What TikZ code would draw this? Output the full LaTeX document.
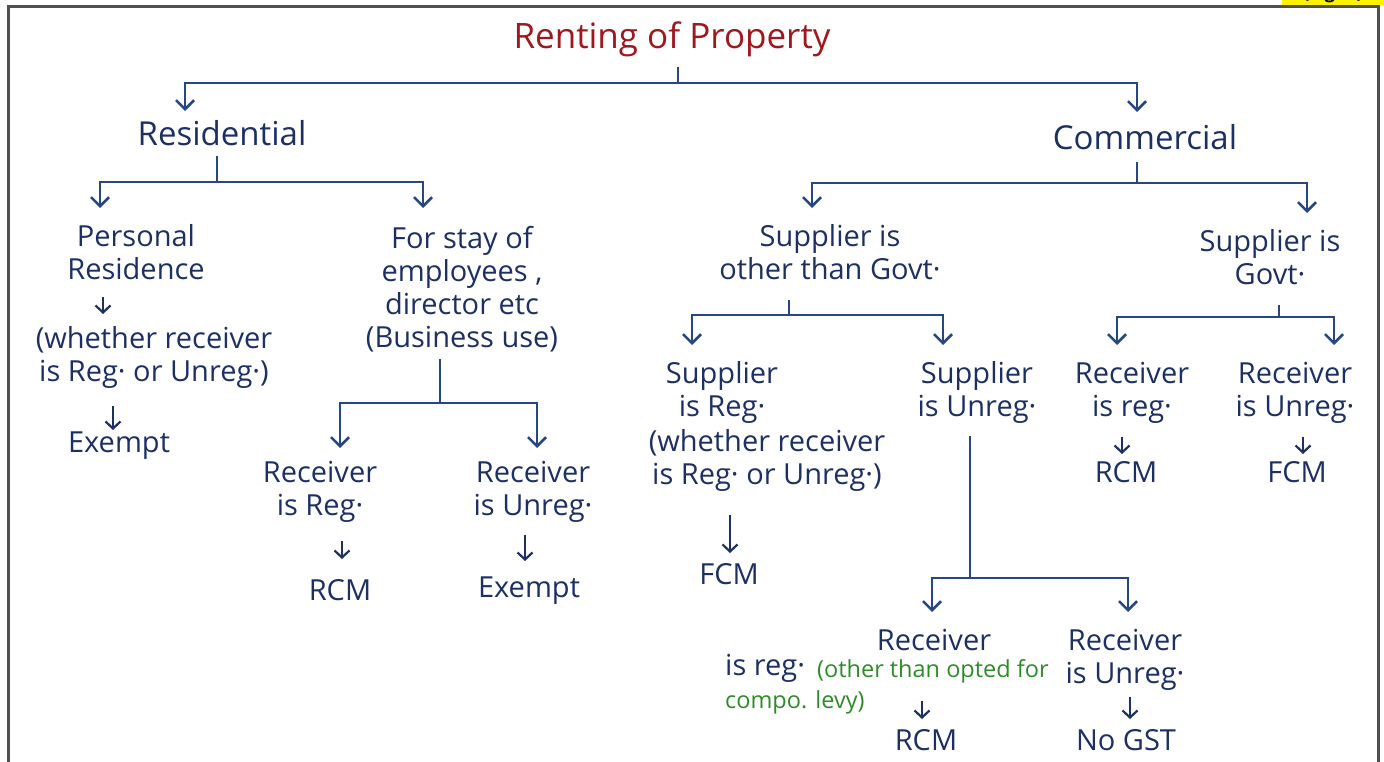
\documentclass[tikz,border=0pt]{standalone}
\usepackage{fontspec}
\setmainfont{Open Sans}
\usetikzlibrary{arrows.meta}
\definecolor{ink}{RGB}{28,48,100}
\definecolor{linec}{RGB}{38,72,130}
\definecolor{titlered}{RGB}{160,24,30}
\definecolor{grn}{RGB}{46,140,40}
\definecolor{framec}{RGB}{80,80,80}
\begin{document}
\begin{tikzpicture}[x=1pt,y=-1pt,
 txt/.style={font=\fontsize{29}{33}\selectfont, text=ink, align=center, inner sep=0pt, anchor=north},
 big/.style={txt, font=\fontsize{33}{36}\selectfont},
 gtxt/.style={font=\fontsize{23.5}{26}\selectfont, text=grn, inner sep=0pt, anchor=base west},
 ln/.style={draw=linec, line width=2.6pt},
 arr/.style={ln, -{Straight Barb[length=9pt,width=18pt]}},
 sarr/.style={draw=ink, line width=2.2pt, -{Straight Barb[length=7pt,width=15pt]}},
]
\useasboundingbox (0,0) rectangle (1384,762);
\clip (0,0) rectangle (1384,762);
\fill[yellow] (1282,-10) rectangle (1384,5);
\node[font=\bfseries\fontsize{18}{20}\selectfont, text=black, anchor=base, inner sep=0pt] (fig) at (1333,-1) {(Fig. 1)};
\draw[framec, line width=3pt] (8,780) -- (8,7) -- (1378,7) -- (1378,780);

% nodes
\node[txt, font=\fontsize{35}{38}\selectfont, text=titlered] (title) at (672,22) {Renting of Property};
\node[big] (res) at (222,120) {Residential};
\node[big] (com) at (1145,124) {Commercial};
\node[txt] (pr) at (136,224) {Personal\\Residence};
\node[txt] (wr1) at (154,326) {(whether receiver\\is Reg· or Unreg·)};
\node[txt] (ex1) at (119,432) {Exempt};
\node[txt] (fs) at (462,226) {For stay of\\employees ,\\director etc\\(Business use)};
\node[txt] (rr1) at (320,461) {Receiver\\is Reg·};
\node[txt] (rcm1) at (340,579) {RCM};
\node[txt] (ru1) at (533,461) {Receiver\\is Unreg·};
\node[txt] (ex2) at (529,577) {Exempt};
\node[txt] (sog) at (830,224) {Supplier is\\other than Govt·};
\node[txt] (sr) at (722,361) {Supplier\\is Reg·};
\node[txt] (wr2) at (767,429) {(whether receiver\\is Reg· or Unreg·)};
\node[txt] (fcm1) at (729,563) {FCM};
\node[txt] (su) at (977,361) {Supplier\\is Unreg·};
\node[txt] (rr3) at (934,629) {Receiver};
\node[txt, anchor=base west] (isreg) at (725,675) {is reg·};
\node[gtxt] (g1) at (817,677) {(other than opted for};
\node[gtxt] (g2) at (725,708) {compo. levy)};
\node[txt] (rcm3) at (926,729) {RCM};
\node[txt] (ru3) at (1125,629) {Receiver\\is Unreg·};
\node[txt] (ngst) at (1126,729) {No GST};
\node[txt] (sg) at (1270,229) {Supplier is\\Govt·};
\node[txt] (rr4) at (1132,362) {Receiver\\is reg·};
\node[txt] (rcm4) at (1126,461) {RCM};
\node[txt] (ru4) at (1295,362) {Receiver\\is Unreg·};
\node[txt] (fcm4) at (1297,461) {FCM};

% tree connectors
\draw[ln, shorten <=9pt] (title.south -| 678,0) -- (678,83) coordinate (j0);
\draw[arr, shorten >=9pt] (j0) -| (res.north -| 185,0);
\draw[arr, shorten >=12pt] (j0) -| (com.north -| 1137,0);

\draw[ln, shorten <=10pt] (res.south -| 217,0) -- (217,182) coordinate (j1);
\draw[arr, shorten >=16pt] (j1) -| (pr.north -| 100,0);
\draw[arr, shorten >=18pt] (j1) -| (fs.north -| 423,0);

\draw[ln, shorten <=7pt] (fs.south -| 440,0) -- (440,403) coordinate (j2);
\draw[arr, shorten >=13pt] (j2) -| (rr1.north -| 340,0);
\draw[arr, shorten >=13pt] (j2) -| (ru1.north -| 537,0);

\draw[ln, shorten <=12pt] (com.south -| 1137,0) -- (1137,183) coordinate (j3);
\draw[arr, shorten >=16pt] (j3) -| (sog.north -| 812,0);
\draw[arr, shorten >=16pt] (j3) -| (sg.north -| 1307,0);

\draw[ln, shorten <=20pt] (sog.south -| 789,0) -- (789,315) coordinate (j4);
\draw[arr, shorten >=16pt] (j4) -| (sr.north -| 692,0);
\draw[arr, shorten >=16pt] (j4) -| (su.north -| 943,0);

\draw[ln, shorten <=13pt] (su.south -| 970,0) -- (970,578) coordinate (j5);
\draw[arr, shorten >=17pt] (j5) -| (rr3.north -| 932,0);
\draw[arr, shorten >=17pt] (j5) -| (ru3.north -| 1128,0);

\draw[ln, shorten <=20pt] (sg.south -| 1279,0) -- (1279,317) coordinate (j6);
\draw[arr, shorten >=17pt] (j6) -| (rr4.north -| 1117,0);
\draw[arr, shorten >=17pt] (j6) -| (ru4.north -| 1334,0);

% small arrows
\draw[sarr, shorten <=17pt, shorten >=12pt] (pr.south -| 103,0) -- (wr1.north -| 103,0);
\draw[sarr, shorten <=18pt, shorten >=2pt] (wr1.south -| 113,0) -- (ex1.north -| 113,0);
\draw[sarr, shorten <=18pt, shorten >=20pt] (rr1.south -| 342,0) -- (rcm1.north -| 342,0);
\draw[sarr, shorten <=12pt, shorten >=16pt] (ru1.south -| 525,0) -- (ex2.north -| 525,0);
\draw[sarr, shorten <=24pt, shorten >=10pt] (wr2.south -| 730,0) -- (fcm1.north -| 730,0);
\draw[sarr, shorten <=50pt, shorten >=10pt] (rr3.south -| 922,0) -- (rcm3.north -| 922,0);
\draw[sarr, shorten <=6pt, shorten >=10pt] (ru3.south -| 1130,0) -- (ngst.north -| 1130,0);
\draw[sarr, shorten <=13pt, shorten >=7pt] (rr4.south -| 1122,0) -- (rcm4.north -| 1122,0);
\draw[sarr, shorten <=13pt, shorten >=7pt] (ru4.south -| 1303,0) -- (fcm4.north -| 1303,0);
\end{tikzpicture}
\end{document}
